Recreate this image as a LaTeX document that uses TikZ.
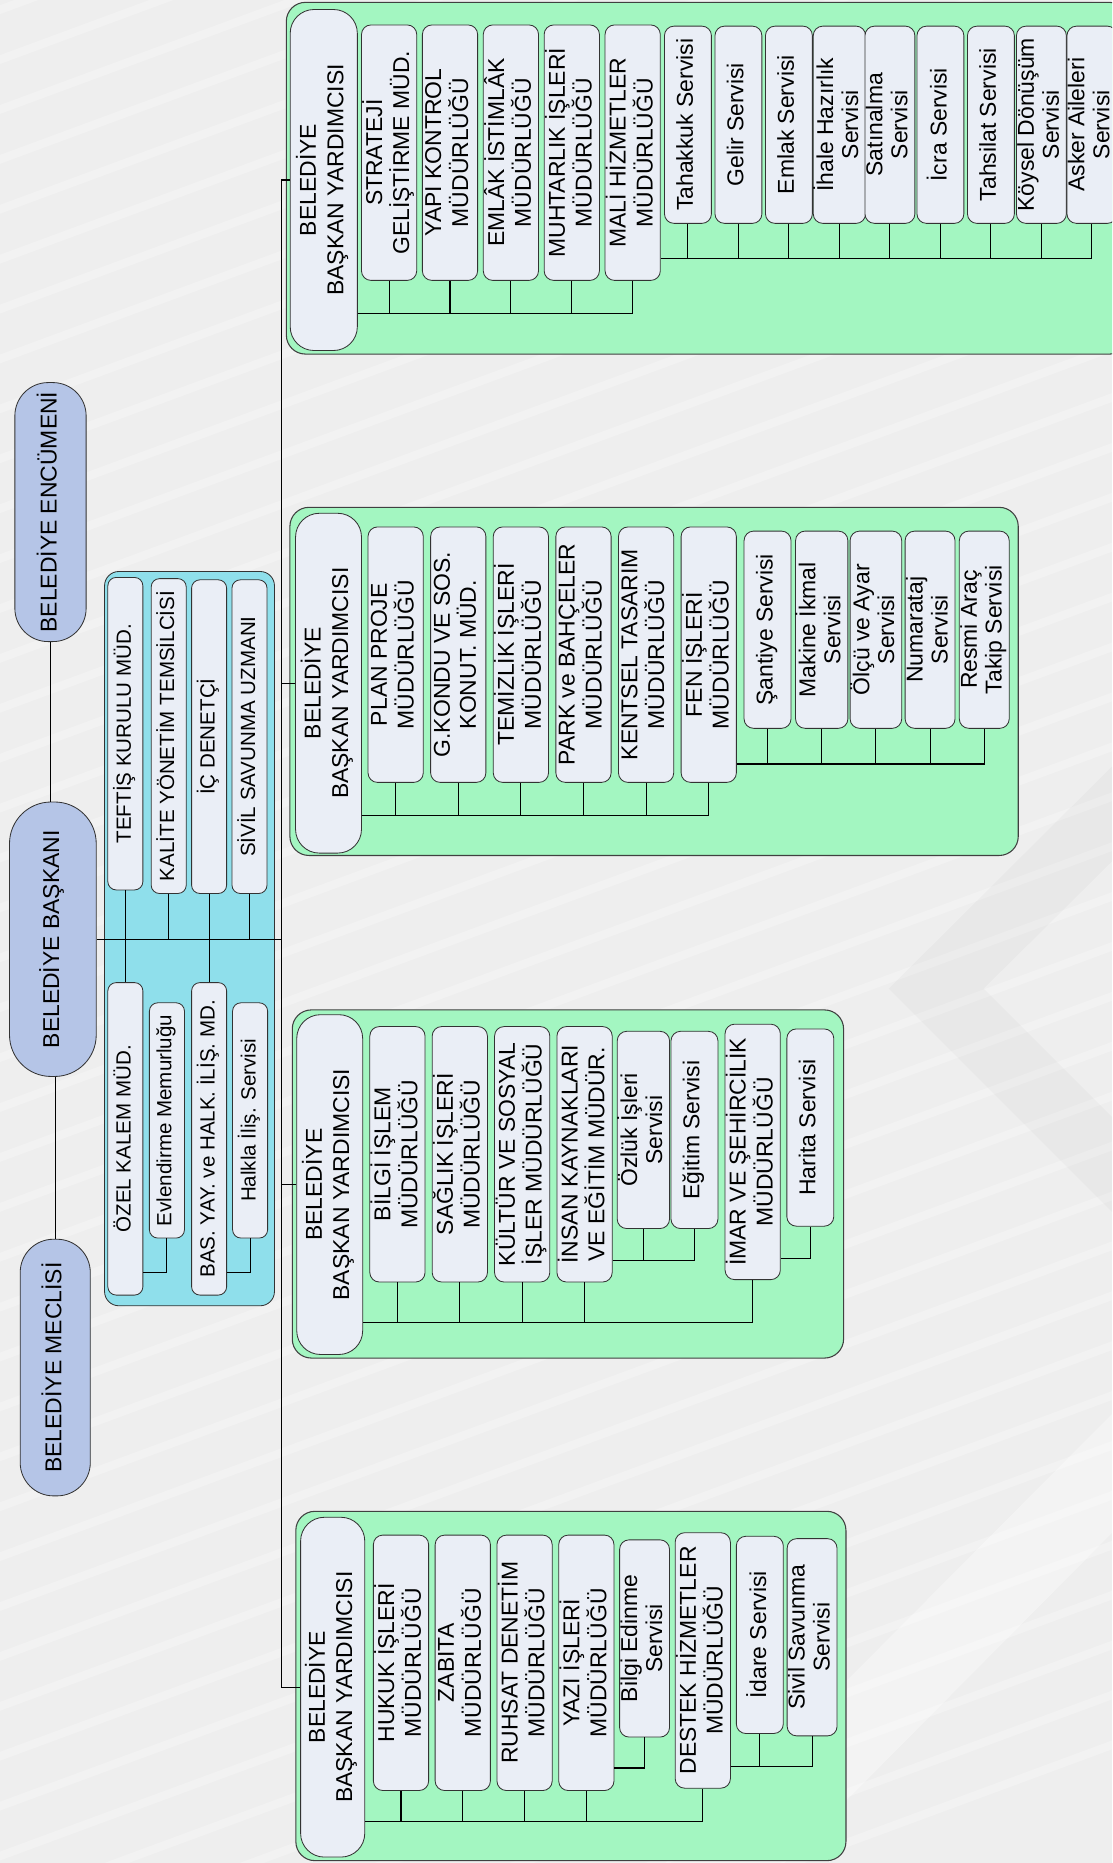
\documentclass[tikz,border=0pt]{standalone}
\usepackage{fontspec}
\setmainfont{Liberation Sans}

\definecolor{chiefblue}{RGB}{181,197,231}
\definecolor{staffcyan}{RGB}{143,223,235}
\definecolor{panelgreen}{RGB}{163,246,193}
\definecolor{boxgray}{RGB}{234,238,246}
\definecolor{bggray}{RGB}{238,238,238}

% text turned to read upwards
\newcommand{\vtext}[1]{\rotatebox{90}{\begin{tabular}{@{}c@{}}#1\end{tabular}}}

\tikzset{
  unitbox/.style={draw=black!80, fill=boxgray, line width=0.7pt, inner sep=0pt, align=center},
  chief/.style={unitbox, fill=chiefblue, font=\fontsize{19.3}{21}\selectfont},
  staff/.style={unitbox, rounded corners=7pt, minimum width=29.5pt, font=\fontsize{17.3}{19}\selectfont},
  deputy/.style={unitbox, rounded corners=20pt, minimum width=55.5pt, minimum height=286pt, font=\fontsize{19.3}{23}\selectfont},
  office/.style={unitbox, rounded corners=8pt, minimum width=46.5pt, minimum height=215pt, font=\fontsize{19.3}{19.5}\selectfont},
  service/.style={unitbox, rounded corners=8pt, minimum width=39.5pt, minimum height=166pt, font=\fontsize{19.3}{21}\selectfont},
  panel/.style={draw=black!75, fill=panelgreen, line width=0.9pt, rounded corners=16pt},
  link/.style={draw=black, line width=0.9pt},
}

\begin{document}
\begin{tikzpicture}[x=1pt, y=-1pt]
  \useasboundingbox (0,0) rectangle (936,1568);
  \clip (0,0) rectangle (936,1568);
  % background
  \fill[bggray] (0,0) rectangle (936,1568);
  \foreach \k in {0,...,44}
    \draw[white, line width=7pt, opacity=0.25] (-200,{40+\k*42}) -- ++(1300,-480);
  \fill[white, opacity=0.35] (560,1568) -- (936,1190) -- (936,1290) -- (660,1568) -- cycle;
  \fill[black, opacity=0.025] (748,832) -- (936,645) -- (936,725) -- (828,832) -- (936,940) -- (936,1020) -- cycle;

  \coordinate (trunk) at (237,0);

  % mayor, committee, council
  \node[chief, rounded corners=28pt, minimum width=60pt, minimum height=218pt] (encumeni) at (42.5,431) {\vtext{BELEDİYE ENCÜMENİ}};
  \node[chief, rounded corners=35pt, minimum width=73pt, minimum height=231pt] (baskan) at (44.5,790.5) {\vtext{BELEDİYE BAŞKANI}};
  \node[chief, rounded corners=28pt, minimum width=59pt, minimum height=216pt] (meclis) at (46.5,1151) {\vtext{BELEDİYE MECLİSİ}};

  % staff units
  \draw[unitbox, fill=staffcyan, rounded corners=12pt] (88,481) rectangle (231,1099);
  \node[staff, minimum height=263pt] (teftis) at (105.5,617.5) {\vtext{TEFTİŞ KURULU MÜD.}};
  \node[staff, minimum height=265pt] (kalite) at (142,619.5) {\vtext{KALİTE YÖNETİM TEMSİLCİSİ}};
  \node[staff, minimum height=264pt] (denetci) at (176,620) {\vtext{İÇ DENETÇİ}};
  \node[staff, minimum height=264pt] (uzman) at (210,620) {\vtext{SİVİL SAVUNMA UZMANI}};
  \node[staff, minimum height=263pt] (ozel) at (105.5,958.5) {\vtext{ÖZEL KALEM MÜD.}};
  \node[staff, minimum height=198pt] (evlen) at (140.5,943) {\vtext{Evlendirme Memurluğu}};
  \node[staff, minimum height=263pt] (basyay) at (176,958.5) {\vtext{BAS. YAY. ve HALK. İLİŞ. MD.}};
  \node[staff, minimum height=198pt] (halkla) at (210.5,943) {\vtext{Halkla İliş. Servisi}};

  % deputy 1
  \draw[panel] (241,2) rectangle (950,298);
  \node[deputy, minimum width=56.5pt, minimum height=287pt] (g1y) at (272.5,151.5) {\vtext{BELEDİYE\\BAŞKAN YARDIMCISI}};
  \foreach [count=\i] \lab in {{STRATEJİ\\GELİŞTİRME MÜD.},{YAPI KONTROL\\MÜDÜRLÜĞÜ},{EMLÂK İSTİMLÂK\\MÜDÜRLÜĞÜ},{MUHTARLIK İŞLERİ\\MÜDÜRLÜĞÜ},{MALİ HİZMETLER\\MÜDÜRLÜĞÜ}}
    \node[office] (g1d\i) at ({327.5+51.25*(\i-1)},128.5) {\vtext{\lab}};
  \foreach [count=\i] \lab in {{Tahakkuk Servisi},{Gelir Servisi},{Emlak Servisi},{İhale Hazırlık\\Servisi},{Satınalma\\Servisi},{İcra Servisi},{Tahsilat Servisi},{Köysel Dönüşüm\\Servisi},{Asker Aileleri\\Servisi}}
    \node[service] (g1s\i) at ({579+42.5*(\i-1)},105) {\vtext{\lab}};

  % deputy 2
  \draw[panel] (244,427) rectangle (857,720);
  \node[deputy] (g2y) at (276.5,575) {\vtext{BELEDİYE\\BAŞKAN YARDIMCISI}};
  \foreach [count=\i] \lab in {{PLAN PROJE\\MÜDÜRLÜĞÜ},{G.KONDU VE SOS.\\KONUT. MÜD.},{TEMİZLİK İŞLERİ\\MÜDÜRLÜĞÜ},{PARK ve BAHÇELER\\MÜDÜRLÜĞÜ},{KENTSEL TASARIM\\MÜDÜRLÜĞÜ},{FEN İŞLERİ\\MÜDÜRLÜĞÜ}}
    \node[office] (g2d\i) at ({333+52.7*(\i-1)},551) {\vtext{\lab}};
  \foreach [count=\i] \lab in {{Şantiye Servisi},{Makine İkmal\\Servisi},{Ölçü ve Ayar\\Servisi},{Numarataj\\Servisi},{Resmi Araç\\Takip Servisi}}
    \node[service] (g2s\i) at ({646+45.6*(\i-1)},530) {\vtext{\lab}};

  % deputy 3
  \draw[panel] (246,850) rectangle (710,1143);
  \node[deputy] (g3y) at (277.5,997) {\vtext{BELEDİYE\\BAŞKAN YARDIMCISI}};
  \foreach [count=\i] \lab in {{BİLGİ İŞLEM\\MÜDÜRLÜĞÜ},{SAĞLIK İŞLERİ\\MÜDÜRLÜĞÜ},{KÜLTÜR VE SOSYAL\\İŞLER MÜDÜRLÜĞÜ},{İNSAN KAYNAKLARI\\VE EĞİTİM MÜDÜR.}}
    \node[office] (g3d\i) at ({334.5+52.5*(\i-1)},971.5) {\vtext{\lab}};
  \node[office] (g3d5) at (633.5,969.5) {\vtext{İMAR VE ŞEHİRCİLİK\\MÜDÜRLÜĞÜ}};
  \node[service] (g3s1) at (541.5,951) {\vtext{Özlük İşleri\\Servisi}};
  \node[service] (g3s2) at (584.5,951) {\vtext{Eğitim Servisi}};
  \node[service] (g3s3) at (682,949) {\vtext{Harita Servisi}};

  % deputy 4
  \draw[panel] (249,1272) rectangle (712,1566);
  \node[deputy, minimum width=54pt] (g4y) at (280,1420) {\vtext{BELEDİYE\\BAŞKAN YARDIMCISI}};
  \foreach [count=\i] \lab in {{HUKUK İŞLERİ\\MÜDÜRLÜĞÜ},{ZABITA\\MÜDÜRLÜĞÜ},{RUHSAT DENETİM\\MÜDÜRLÜĞÜ},{YAZI İŞLERİ\\MÜDÜRLÜĞÜ}}
    \node[office] (g4d\i) at ({337.5+52*(\i-1)},1399.5) {\vtext{\lab}};
  \node[office] (g4d5) at (591.5,1397.5) {\vtext{DESTEK HİZMETLER\\MÜDÜRLÜĞÜ}};
  \node[service] (g4s1) at (542.5,1379) {\vtext{Bilgi Edinme\\Servisi}};
  \node[service] (g4s2) at (639.5,1376) {\vtext{İdare Servisi}};
  \node[service] (g4s3) at (683.5,1378) {\vtext{Sivil Savunma\\Servisi}};

  % connectors
  \draw[link] (encumeni.south) -- (encumeni.south |- baskan.north);
  \draw[link] (meclis.north) -- (meclis.north |- baskan.south);
  \draw[link] (baskan.east) -- (baskan.east -| trunk);
  \draw[link] (g1y.west) -- (g1y.west -| trunk) -- (g4y.west -| trunk) -- (g4y.west);
  \foreach \g in {g2y,g3y}
    \draw[link] (\g.west) -- (\g.west -| trunk);

  \draw[link] (teftis) -- (ozel);
  \draw[link] (denetci) -- (basyay);
  \foreach \s in {kalite,uzman}
    \draw[link] (\s.south) -- (\s.south |- baskan.east);
  \coordinate (stafflow) at (0,1071);
  \draw[link] (evlen.south) |- (ozel.east |- stafflow);
  \draw[link] (halkla.south) |- (basyay.east |- stafflow);

  \coordinate (g1bar) at (0,264);
  \coordinate (g1sbar) at (0,217.5);
  \draw[link] (g1y.east |- g1bar) -| (g1d5.south);
  \foreach \i in {1,...,4}
    \draw[link] (g1d\i.south) -- (g1d\i.south |- g1bar);
  \draw[link] (g1d5.east |- g1sbar) -| (g1s9.south);
  \foreach \i in {1,...,8}
    \draw[link] (g1s\i.south) -- (g1s\i.south |- g1sbar);

  \coordinate (g2bar) at (0,686);
  \coordinate (g2sbar) at (0,643);
  \draw[link] (g2y.east |- g2bar) -| (g2d6.south);
  \foreach \i in {1,...,5}
    \draw[link] (g2d\i.south) -- (g2d\i.south |- g2bar);
  \draw[link] (g2d6.east |- g2sbar) -| (g2s5.south);
  \foreach \i in {1,...,4}
    \draw[link] (g2s\i.south) -- (g2s\i.south |- g2sbar);

  \coordinate (g3bar) at (0,1113);
  \coordinate (g3ibar) at (0,1061);
  \coordinate (g3mbar) at (0,1059);
  \draw[link] (g3y.east |- g3bar) -| (g3d5.south);
  \foreach \i in {1,...,4}
    \draw[link] (g3d\i.south) -- (g3d\i.south |- g3bar);
  \draw[link] (g3d4.east |- g3ibar) -| (g3s2.south);
  \draw[link] (g3s1.south) -- (g3s1.south |- g3ibar);
  \draw[link] (g3d5.east |- g3mbar) -| (g3s3.south);

  \coordinate (g4bar) at (0,1533);
  \coordinate (g4ybar) at (0,1488);
  \coordinate (g4dbar) at (0,1487);
  \draw[link] (g4y.east |- g4bar) -| (g4d5.south);
  \foreach \i in {1,...,4}
    \draw[link] (g4d\i.south) -- (g4d\i.south |- g4bar);
  \draw[link] (g4d4.east |- g4ybar) -| (g4s1.south);
  \draw[link] (g4d5.east |- g4dbar) -| (g4s3.south);
  \draw[link] (g4s2.south) -- (g4s2.south |- g4dbar);
\end{tikzpicture}
\end{document}
